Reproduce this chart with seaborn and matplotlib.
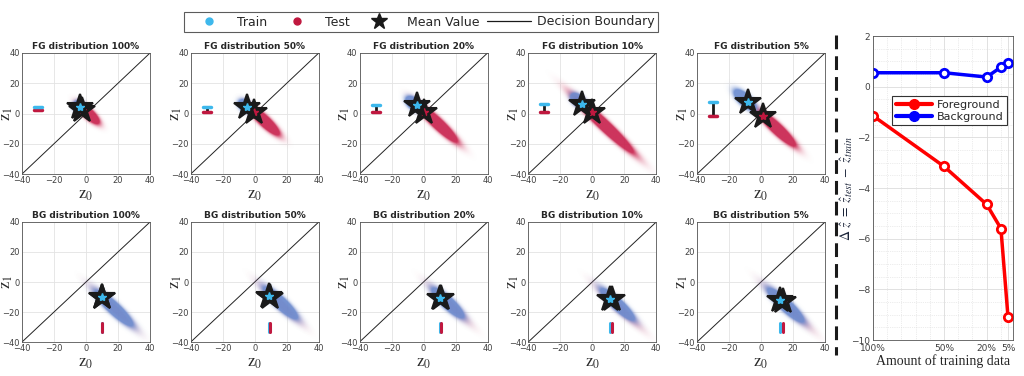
import numpy as np
import matplotlib
matplotlib.use("Agg")
import matplotlib.pyplot as plt
from matplotlib.lines import Line2D
from matplotlib.colors import to_rgb
import seaborn as sns
import pandas as pd


percents = ["100%", "50%", "20%", "10%", "5%"]

# mean latent codes (z0, z1) per panel
fg_train_mean = [(-4.0, 4.4), (-4.8, 4.4), (-4.0, 5.4), (-6.2, 6.4), (-8.0, 7.7)]
fg_test_mean = [(-2.8, 2.6), (-0.5, 1.1), (0.5, 1.0), (0.0, 1.0), (1.5, -1.8)]
bg_train_mean = [(9.7, -10.0), (9.2, -9.5), (10.5, -10.4), (11.0, -11.2), (11.6, -12.2)]
bg_test_mean = [(10.0, -10.2), (9.7, -9.7), (11.0, -10.6), (12.4, -11.6), (13.6, -12.6)]

# latent clouds: centre z0, centre z1, spread along anti-diagonal, spread across
fg_train_cloud = [(-4.5, 5, 2.0, 2.0), (-6, 5, 2.7, 1.9), (-6.5, 6.5, 3.2, 1.9),
                  (-8.5, 8.5, 3.2, 1.9), (-10, 9, 4.7, 2.0)]
fg_test_cloud = [(1.5, 0, 4.8, 1.7), (6, -5, 6.7, 1.8), (8.5, -6.5, 9.1, 1.8),
                 (7.5, -7.5, 13.6, 1.8), (10, -10, 8.5, 1.8)]
bg_train_cloud = [(17.5, -17.5, 8.6, 2.0), (16, -14, 7.7, 2.0), (15, -14, 7.2, 2.0),
                  (16, -15, 7.7, 1.9), (15.5, -15.5, 8.2, 2.0)]
bg_test_cloud = [(17.5, -17.5, 11.0, 1.8), (16, -14.5, 10.5, 1.8), (16, -15, 10.5, 1.8),
                 (17, -17, 11.5, 1.8), (17, -17, 12.0, 1.8)]

# right panel
amount = [100, 50, 20, 10, 5]
delta_fg = [-1.15, -3.15, -4.65, -5.6, -9.1]
delta_bg = [0.55, 0.55, 0.38, 0.77, 0.93]

CYAN = "#3db8ec"
RED = "#c0183f"
BLOB_BLUE = "#6a8bcf"
BLOB_RED = "#c81e4a"

sns.set_theme(style="whitegrid")
plt.rcParams["font.family"] = ["DejaVu Sans"]
plt.rcParams["mathtext.fontset"] = "stix"

fig = plt.figure(figsize=(10.24, 3.76), dpi=100)

grid = np.linspace(-40, 40, 321)
gx, gy = np.meshgrid(grid, grid)


def cloud(ax, c, color, gain, top, zo):
  cx, cy, sa, sc = c
  u = ((gx - cx) - (gy - cy)) / np.sqrt(2)
  v = ((gx - cx) + (gy - cy)) / np.sqrt(2)
  dens = np.exp(-0.5 * ((u / sa) ** 2 + (v / sc) ** 2))
  img = np.zeros(gx.shape + (4,))
  img[..., :3] = to_rgb(color)
  img[..., 3] = np.clip(gain * dens, 0, 1) * top
  ax.imshow(img, extent=(-40, 40, -40, 40), origin="lower", aspect="auto",
            interpolation="antialiased", zorder=zo)


def star(ax, p, color, zo):
  ax.plot([p[0]], [p[1]], marker="*", ms=19, color="k", mec="k", mew=1.5,
          ls="none", zorder=zo)
  ax.plot([p[0]], [p[1]], marker="*", ms=6, color=color, mec=color,
          ls="none", zorder=zo + 0.1)


def panel(ax, title, trm, tem, trc, tec, kind):
  ax.plot([-40, 40], [-40, 40], color="#222222", lw=0.7, zorder=1.5)
  if kind == "FG":
    cloud(ax, tec, BLOB_RED, 6, 0.9, 2)
    cloud(ax, trc, BLOB_BLUE, 6, 0.92, 3)
    ax.plot([-30, -30], [trm[1], tem[1]], color="k", lw=2, zorder=4)
    ax.plot([-32.5, -27.5], [tem[1], tem[1]], color=RED, lw=2.5, zorder=5)
    ax.plot([-32.5, -27.5], [trm[1], trm[1]], color=CYAN, lw=2.5, zorder=5)
  else:
    cloud(ax, tec, BLOB_RED, 1.5, 0.45, 2)
    cloud(ax, trc, BLOB_BLUE, 6, 0.92, 3)
    ax.plot([trm[0], tem[0]], [-30, -30], color="k", lw=2, zorder=4)
    ax.plot([trm[0], trm[0]], [-33, -27], color=CYAN, lw=2.2, zorder=5)
    ax.plot([tem[0], tem[0]], [-33, -27], color=RED, lw=2.2, zorder=5)
  star(ax, tem, RED, 6)
  star(ax, trm, CYAN, 7)

  ax.set_xlim(-40, 40)
  ax.set_ylim(-40, 40)
  ax.set_xticks([-40, -20, 0, 20, 40])
  ax.set_yticks([-40, -20, 0, 20, 40])
  ax.grid(True, color="#e3e3e3", lw=0.6)
  ax.set_facecolor("white")
  for s in ax.spines.values():
    s.set_color("#555555")
    s.set_linewidth(0.6)
  ax.tick_params(labelsize=6, colors="#404040", length=0, pad=1.5)
  ax.set_title(title, fontsize=6.5, fontweight="bold", pad=3)
  ax.set_xlabel(r"$\mathrm{z}_0$", fontsize=12, labelpad=0)
  ax.set_ylabel(r"$\mathrm{z}_1$", fontsize=12)
  ax.yaxis.set_label_coords(-0.055, 0.5)


lefts = [22 + 168.75 * i for i in range(5)]
for i, pc in enumerate(percents):
  ax = fig.add_axes([lefts[i] / 1024, 1 - 174 / 376, 128 / 1024, 121 / 376])
  panel(ax, "FG distribution " + pc, fg_train_mean[i], fg_test_mean[i],
        fg_train_cloud[i], fg_test_cloud[i], "FG")
  ax = fig.add_axes([lefts[i] / 1024, 1 - 342 / 376, 128 / 1024, 120 / 376])
  panel(ax, "BG distribution " + pc, bg_train_mean[i], bg_test_mean[i],
        bg_train_cloud[i], bg_test_cloud[i], "BG")

# shared legend on top
handles = [Line2D([], [], marker="o", color=CYAN, ls="none", ms=5),
           Line2D([], [], marker="o", color=RED, ls="none", ms=5),
           Line2D([], [], marker="*", color="k", ls="none", ms=12),
           Line2D([], [], color="k", lw=0.9)]
leg = fig.legend(handles, ["Train", "Test", "Mean Value", "Decision Boundary"],
                 loc="center", bbox_to_anchor=(421 / 1024, 1 - 22 / 376), ncol=4,
                 fontsize=9, frameon=True, fancybox=False, handlelength=3.5,
                 handletextpad=0.5, columnspacing=0.6, borderpad=0.25)
leg.get_frame().set_edgecolor("#333333")
leg.get_frame().set_linewidth(0.8)

# separator
fig.add_artist(Line2D([836 / 1024, 836 / 1024], [1 - 35 / 376, 1 - 355 / 376],
                      color="k", lw=2.2, ls=(0, (4.5, 2.3))))

# right panel
ax = fig.add_axes([873 / 1024, 1 - 340 / 376, 140 / 1024, 304 / 376])
df = pd.DataFrame({"amount": amount * 2, "delta": delta_fg + delta_bg,
                   "series": ["Foreground"] * 5 + ["Background"] * 5})
sns.lineplot(data=df, x="amount", y="delta", hue="series",
             palette={"Foreground": "#ff0000", "Background": "#0000ff"},
             marker="o", markersize=6, markerfacecolor="white", markeredgewidth=2,
             lw=2.5, legend=False, ax=ax)
for ln, c in zip(ax.get_lines(), ["#ff0000", "#0000ff"]):
  ln.set_markeredgecolor(c)
ax.set_xlim(100, 1.5)
ax.set_ylim(-10, 2)
ax.set_xticks([100, 50, 20, 5])
ax.set_xticklabels(["100%", "50%", "20%", "5%"])
ax.set_yticks([-10, -8, -6, -4, -2, 0, 2])
ax.set_xticks([90, 80, 70, 60, 40, 30, 10], minor=True)
ax.set_yticks(np.arange(-10, 2, 0.5), minor=True)
ax.grid(True, which="major", color="#dcdcdc", lw=0.6)
ax.grid(True, which="minor", color="#dadada", lw=0.5, ls=":")
ax.set_facecolor("white")
for s in ax.spines.values():
  s.set_color("#555555")
  s.set_linewidth(0.6)
ax.tick_params(which="both", labelsize=6.5, colors="#404040", length=0, pad=2)
ax.tick_params(axis="x", pad=3)
ax.set_xlabel("Amount of training data", family="Liberation Serif", fontsize=10,
              labelpad=1)
ax.set_ylabel(r"$\Delta\ \hat{z}\ =\ \hat{z}_{test}\ -\ \hat{z}_{train}$",
              fontsize=10, color="#1a2338")
ax.yaxis.set_label_coords(-0.135, 0.5)
lh = [Line2D([], [], color="#ff0000", lw=3, marker="o", ms=7),
      Line2D([], [], color="#0000ff", lw=3, marker="o", ms=7)]
lg = ax.legend(lh, ["Foreground", "Background"], loc="upper right",
               bbox_to_anchor=(0.995, 0.82), fontsize=8, handlelength=3.3,
               fancybox=False, framealpha=1, borderpad=0.3, labelspacing=0.2,
               handletextpad=0.4)
lg.get_frame().set_edgecolor("#333333")
lg.get_frame().set_linewidth(0.8)

fig.savefig("out.png", dpi=100)
